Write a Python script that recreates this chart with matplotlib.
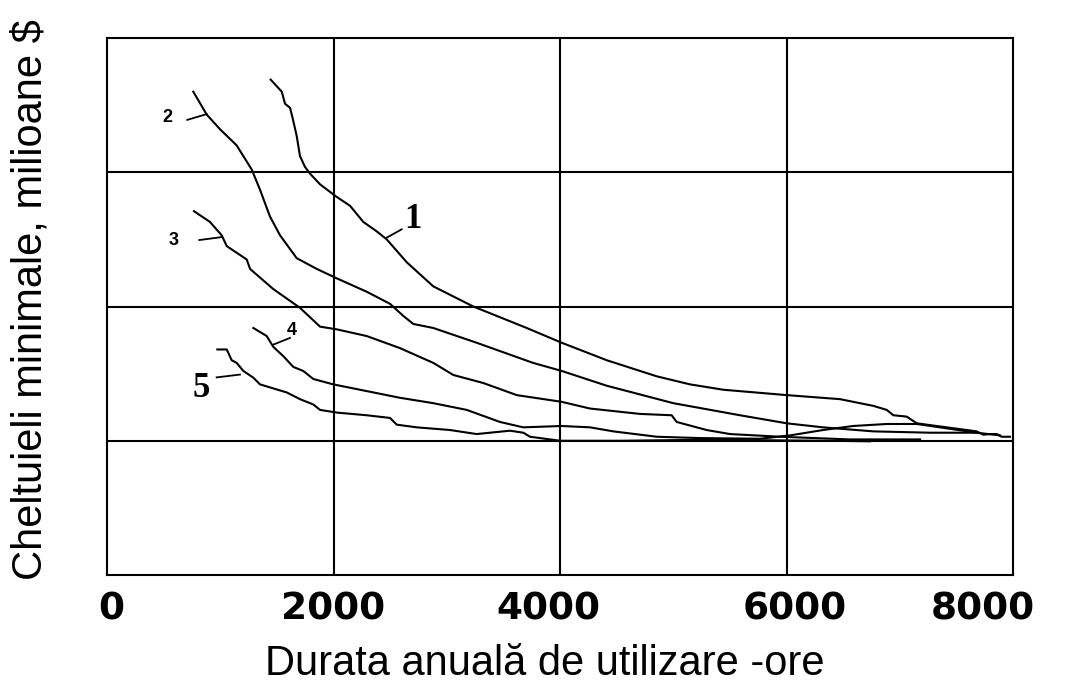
import matplotlib

matplotlib.use("Agg")
import matplotlib.pyplot as plt
from matplotlib.transforms import ScaledTranslation

# curve data (x: hours/year, y: relative cost units, grid step = 1)
c1_x = [1445, 1543, 1572, 1616, 1640, 1675, 1704, 1748, 1792, 1881, 2022, 2146, 2263,
        2381, 2470, 2646, 2881, 3234, 3706, 4015, 4412, 4854, 5148, 5442, 6002, 6472,
        6766, 6885, 6943, 7061, 7150, 7679, 7738, 7797, 7856, 7900, 7973]
c1_y = [3.69, 3.60, 3.51, 3.48, 3.40, 3.27, 3.12, 3.04, 2.99, 2.91, 2.82, 2.75, 2.63,
        2.56, 2.50, 2.33, 2.15, 2.00, 1.84, 1.73, 1.60, 1.48, 1.42, 1.38, 1.34, 1.31,
        1.26, 1.23, 1.19, 1.18, 1.13, 1.07, 1.045, 1.05, 1.05, 1.03, 1.03]

c2_x = [762, 880, 998, 1145, 1204, 1278, 1351, 1439, 1528, 1675, 1852, 2028, 2293, 2499,
        2616, 2705, 2881, 3264, 3762, 4015, 4412, 5000, 5589, 6002, 6322, 6766, 7267, 7679]
c2_y = [3.60, 3.43, 3.32, 3.20, 3.12, 3.02, 2.87, 2.67, 2.53, 2.36, 2.28, 2.21, 2.11, 2.02,
        1.93, 1.87, 1.84, 1.73, 1.58, 1.52, 1.41, 1.28, 1.19, 1.13, 1.10, 1.07, 1.06, 1.06]

c3_x = [768, 909, 1013, 1057, 1234, 1263, 1468, 1704, 1881, 2028, 2293, 2587, 2881, 3058,
        3323, 3618, 4015, 4265, 4706, 4986, 5030, 5295, 5501, 5943, 6561, 7179]
c3_y = [2.71, 2.63, 2.53, 2.45, 2.35, 2.28, 2.13, 1.99, 1.85, 1.83, 1.78, 1.69, 1.58, 1.49,
        1.43, 1.34, 1.29, 1.24, 1.20, 1.19, 1.14, 1.08, 1.05, 1.03, 1.01, 1.01]

c4_x = [1292, 1410, 1468, 1557, 1645, 1733, 1822, 1998, 2293, 2587, 2881, 3176, 3470, 3676,
        4015, 4265, 4471, 4854, 5236, 5766, 6031, 6322, 6587, 6885, 7150, 7679, 7885]
c4_y = [1.84, 1.78, 1.70, 1.63, 1.55, 1.52, 1.46, 1.42, 1.37, 1.32, 1.28, 1.23, 1.14, 1.10,
        1.11, 1.10, 1.07, 1.03, 1.02, 1.015, 1.04, 1.08, 1.11, 1.125, 1.125, 1.06, 1.04]

c5_x = [974, 1057, 1101, 1145, 1204, 1292, 1351, 1468, 1587, 1704, 1822, 1881, 2028, 2293,
        2499, 2558, 2735, 3029, 3264, 3558, 3676, 3735, 4000, 4530, 5236, 5766, 6384, 6737]
c5_y = [1.68, 1.68, 1.60, 1.58, 1.52, 1.47, 1.42, 1.39, 1.36, 1.31, 1.27, 1.23, 1.21, 1.19,
        1.17, 1.12, 1.10, 1.08, 1.05, 1.075, 1.06, 1.03, 1.0, 1.0, 1.007, 1.004, 1.0, 0.996]

curves = [(c1_x, c1_y), (c2_x, c2_y), (c3_x, c3_y), (c4_x, c4_y), (c5_x, c5_y)]

# curve labels: text, text position, leader line start/end
label_text = ["1", "2", "3", "4", "5"]
label_pos = [(2705, 2.65), (530, 3.41), (592, 2.49), (1631, 1.82), (836, 1.39)]
leader_from = [(2602, 2.575), (709, 3.39), (815, 2.495), (1468, 1.716), (968, 1.472)]
leader_to = [(2470, 2.513), (880, 3.433), (1013, 2.517), (1616, 1.766), (1174, 1.493)]
label_serif = [True, False, False, False, True]

x_ticks = [0, 2000, 4000, 6000, 8000]
x_ticklabels = ["0", "2000", "4000", "6000", "8000"]
y_grid = [1, 2, 3]

fig = plt.figure(figsize=(10.83, 6.88), dpi=100)
ax = fig.add_axes([0.0988, 0.1642, 0.8366, 0.7806])

for xs, ys in curves:
    ax.plot(xs, ys, color="black", linewidth=1.5)

for gx in x_ticks[1:-1]:
    ax.axvline(gx, color="black", linewidth=1.5)
for gy in y_grid:
    ax.axhline(gy, color="black", linewidth=1.5)

for txt, pos, p0, p1, serif in zip(label_text, label_pos, leader_from, leader_to, label_serif):
    ax.plot([p0[0], p1[0]], [p0[1], p1[1]], color="black", linewidth=1.3)
    if serif:
        ax.text(pos[0], pos[1], txt, fontsize=25, fontweight="bold",
                family="Liberation Serif", ha="center", va="center")
    else:
        ax.text(pos[0], pos[1], txt, fontsize=13, fontweight="bold",
                family="Liberation Sans", ha="center", va="center")

ax.set_xlim(0, 8000)
ax.set_ylim(0, 4)
ax.set_yticks([])
ax.set_xticks(x_ticks)
ax.set_xticklabels(x_ticklabels, fontsize=27, fontweight="bold", family="DejaVu Sans")
ax.tick_params(axis="x", length=0, pad=12)
shifts = [4, 0, -12, 8, -30]
for lab, dx in zip(ax.get_xticklabels(), shifts):
    lab.set_transform(lab.get_transform() + ScaledTranslation(dx / 100, 0, fig.dpi_scale_trans))

for spine in ax.spines.values():
    spine.set_linewidth(1.5)
    spine.set_color("black")

fig.text(545 / 1083, 1 - 664 / 688, "Durata anuală de utilizare -ore",
         fontsize=30, family="Liberation Sans", ha="center", va="center")
fig.text(31 / 1083, 1 - 300 / 688, "Cheltuieli minimale, milioane $",
         fontsize=30, family="Liberation Sans", ha="center", va="center", rotation=90)

fig.savefig("out.png", dpi=100, facecolor="white")
